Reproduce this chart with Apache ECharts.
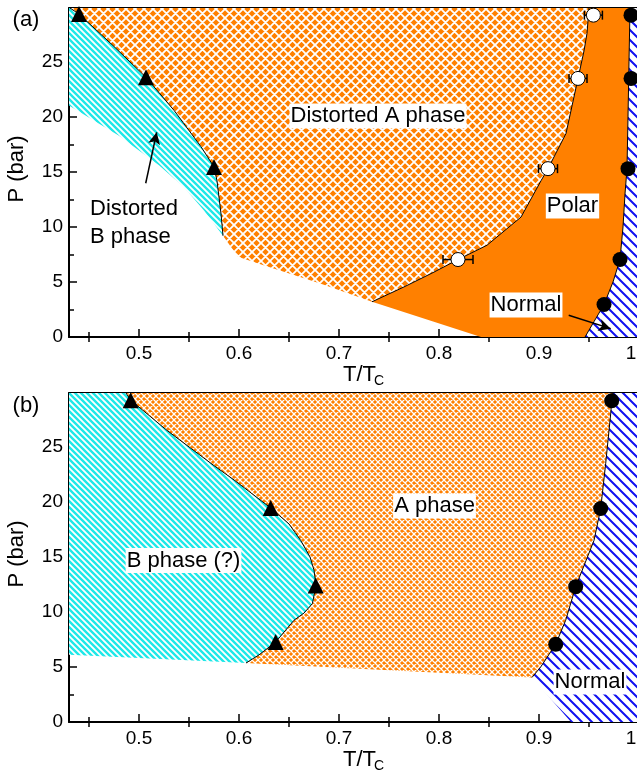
<!DOCTYPE html>
<html><head><meta charset="utf-8">
<script src="https://cdn.jsdelivr.net/npm/echarts@6/dist/echarts.min.js"></script>
<style>html,body{margin:0;padding:0;background:#fff}#c{width:637px;height:777px}</style>
</head><body><div id="c"></div>
<script>
// ---------------- data ----------------
const xMajorTicks = [0.5, 0.6, 0.7, 0.8, 0.9, 1.0];
const xTickLabels = ['0.5', '0.6', '0.7', '0.8', '0.9', '1.0'];
const xMinorTicks = [0.45, 0.55, 0.65, 0.75, 0.85, 0.95];
const yMajorTicks = [0, 5, 10, 15, 20, 25];
const yTickLabels = ['0', '5', '10', '15', '20', '25'];
const yMinorTicks = [2.5, 7.5, 12.5, 17.5, 22.5, 27.5];

// panel (a)
const aTriangles = [[0.44, 29.35], [0.507, 23.6], [0.575, 15.45]];
const aOpenCircles = [[0.9544, 29.25], [0.939, 23.5], [0.909, 15.3], [0.819, 7.04]];
const aOpenErr = [0.009, 0.009, 0.0095, 0.015];
const aFilledCircles = [[0.992, 29.25], [0.992, 23.5], [0.989, 15.3], [0.981, 7.04], [0.965, 2.95]];
const aCurveBA = [[0.431, 29.9], [0.44, 29.35], [0.475, 26.4], [0.507, 23.6], [0.535, 20.6], [0.562, 17.3], [0.575, 15.45], [0.578, 14.2], [0.582, 11.2], [0.584, 9.2]];
const aCyanLower = [[0.584, 9.2], [0.565, 11.5], [0.545, 13.6], [0.52, 15.6], [0.48, 18.3], [0.43, 21.05]];
const aOrderedLower = [[0.584, 9.2], [0.599, 7.3], [0.62, 6.65], [0.682, 4.85], [0.733, 3.2]];
const aCurveAP = [[0.733, 3.2], [0.765, 4.55], [0.795, 5.9], [0.819, 7.04], [0.848, 8.34], [0.882, 10.9], [0.902, 14.2], [0.909, 15.3], [0.927, 18.5], [0.939, 23.5], [0.945, 26.0], [0.948, 27.6], [0.95, 29.9]];
const aPolarLower = [[0.733, 3.2], [0.842, 0], [0.946, 0]];
const aCurveNormal = [[0.946, 0], [0.955, 1.4], [0.965, 2.95], [0.974, 5.0], [0.981, 7.04], [0.984, 10], [0.986, 13], [0.988, 15.3], [0.989, 20], [0.99, 25], [0.991, 29.9]];
const aArrowB = [[0.5067, 13.97], [0.5177, 18.6]];
const aArrowN = [[0.9297, 1.97], [0.9717, 0.76]];

// panel (b)
const bTriangles = [[0.4917, 29.25], [0.6317, 19.45], [0.6767, 12.4], [0.6367, 7.27]];
const bFilledCircles = [[0.9727, 29.2], [0.9617, 19.4], [0.9367, 12.3], [0.9167, 7.06]];
const bCurveBA = [[0.487, 29.9], [0.4917, 29.25], [0.528, 26.5], [0.55, 25.0], [0.575, 23.3], [0.595, 22.0], [0.6317, 19.45], [0.65, 18.0], [0.6617, 16.5], [0.671, 15.0], [0.675, 13.8], [0.677, 12.4], [0.6734, 10.76], [0.665, 9.9], [0.655, 9.25], [0.6367, 7.27], [0.62, 6.1], [0.607, 5.36]];
const bLowerLeft = [[0.607, 5.36], [0.43, 6.12]];
const bLowerRight = [[0.607, 5.36], [0.893, 4.05]];
const bCurveNormal = [[0.893, 4.05], [0.9017, 5.0], [0.9167, 7.06], [0.9267, 9.25], [0.9367, 12.3], [0.955, 16.5], [0.9617, 19.4], [0.9667, 23.5], [0.9717, 28.0], [0.9727, 29.2], [0.974, 29.9]];
const bNormalLower = [[0.932, 0], [0.893, 4.05]];

// ---------------- helpers ----------------
const FONT = "'Liberation Sans', Arial, Helvetica, sans-serif";
const XMIN = 0.43, XMAX = 1.0, YMIN = 0, YMAX = 29.9;
const ORANGE = '#ff8000', CYAN = '#1ee8e8', BLUE = '#1010f0';

function stripeTile(size, color, width) {
  const c = document.createElement('canvas'); c.width = size; c.height = size;
  const g = c.getContext('2d');
  g.fillStyle = '#fff'; g.fillRect(0, 0, size, size);
  g.strokeStyle = color; g.lineWidth = width; g.beginPath();
  for (let k = -1; k <= 1; k++) { g.moveTo(k * size - 1, -1); g.lineTo(k * size + size + 1, size + 1); }
  g.stroke();
  return { image: c, repeat: 'repeat' };
}
function crossTile(size, bg, fg, width) {
  const c = document.createElement('canvas'); c.width = size; c.height = size;
  const g = c.getContext('2d');
  g.fillStyle = bg; g.fillRect(0, 0, size, size);
  g.strokeStyle = fg; g.lineWidth = width; g.beginPath();
  for (let k = -1; k <= 1; k++) {
    g.moveTo(k * size - 1, -1); g.lineTo(k * size + size + 1, size + 1);
    g.moveTo(k * size - 1, size + 1); g.lineTo(k * size + size + 1, -1);
  }
  g.stroke();
  return { image: c, repeat: 'repeat' };
}
const fillCyan = stripeTile(6, CYAN, 2.4);
const fillBlue = stripeTile(10, BLUE, 2);
const fillCrossA = crossTile(9, ORANGE, '#fff', 1.8);
const fillCrossB = crossTile(6, ORANGE, '#fff', 1.3);

const rev = a => a.slice().reverse();

function poly(xi, yi, pts, fill, z) {
  return {
    type: 'custom', xAxisIndex: xi, yAxisIndex: yi, silent: true, z: z || 1, data: pts, clip: true,
    renderItem: (params, api) => params.dataIndex === 0 ? {
      type: 'polygon', shape: { points: pts.map(p => api.coord(p)) }, style: { fill: fill, stroke: null }
    } : null
  };
}
function curve(xi, yi, pts, extra) {
  return Object.assign({
    type: 'line', xAxisIndex: xi, yAxisIndex: yi, data: pts, symbol: 'none', silent: true, z: 3,
    lineStyle: { color: '#000', width: 1 }
  }, extra || {});
}
function marks(xi, yi, pts, symbol, size, color, border) {
  return {
    type: 'scatter', xAxisIndex: xi, yAxisIndex: yi, data: pts, symbol: symbol, symbolSize: size, z: 5, silent: true,
    itemStyle: { color: color, borderColor: '#000', borderWidth: border || 0, opacity: 1 }
  };
}
function lookup(vals, labels) {
  return v => { let best = 0; vals.forEach((t, i) => { if (Math.abs(t - v) < Math.abs(vals[best] - v)) best = i; }); return labels[best]; };
}
function axisSet(g, dim) {
  const isX = dim === 'x';
  const base = {
    gridIndex: g, type: 'value', min: isX ? XMIN : YMIN, max: isX ? XMAX : YMAX,
    splitLine: { show: false },
    axisLine: { show: true, onZero: false, lineStyle: { color: '#000', width: 2 } }
  };
  const major = isX ? xMajorTicks : yMajorTicks, minor = isX ? xMinorTicks : yMinorTicks;
  const p1 = isX ? 'bottom' : 'left', p2 = isX ? 'top' : 'right';
  const tick = (vals, len) => ({ show: true, inside: true, length: len, customValues: vals, lineStyle: { color: '#000', width: 1.5 } });
  return [
    Object.assign({}, base, { position: p1, axisTick: tick(major, 8),
      axisLabel: { show: true, customValues: major, formatter: isX ? lookup(xMajorTicks, xTickLabels) : lookup(yMajorTicks, yTickLabels),
        fontSize: 19, fontFamily: FONT, color: '#000', margin: isX ? 7 : 6 } }),
    Object.assign({}, base, { position: p1, axisLine: { show: false }, axisTick: tick(minor, 5), axisLabel: { show: false } }),
    Object.assign({}, base, { position: p2, axisTick: tick(major, 8), axisLabel: { show: false } }),
    Object.assign({}, base, { position: p2, axisLine: { show: false }, axisTick: tick(minor, 5), axisLabel: { show: false } })
  ];
}

// ---------------- regions ----------------
const aCyanPoly = [[XMIN, YMAX]].concat(aCurveBA, aCyanLower.slice(1));
const aCrossPoly = aCurveBA.concat(aOrderedLower.slice(1), aCurveAP.slice(1));
const aPolarPoly = aPolarLower.concat(aCurveNormal.slice(1), rev(aCurveAP));
const aNormalPoly = aCurveNormal.concat([[XMAX, YMAX], [XMAX, YMIN]]);

const bCyanPoly = [[XMIN, YMAX]].concat(bCurveBA, bLowerLeft.slice(1));
const bCrossPoly = bCurveBA.concat(bLowerRight.slice(1), bCurveNormal.slice(1));
const bNormalPoly = bCurveNormal.concat([[XMAX, YMAX], [XMAX, YMIN]], bNormalLower);

function errBars(xi, yi, pts, errs) {
  return {
    type: 'custom', xAxisIndex: xi, yAxisIndex: yi, z: 4, silent: true,
    data: pts.map((p, i) => [p[0], p[1], errs[i]]),
    renderItem: (params, api) => {
      const x = api.value(0), y = api.value(1), e = api.value(2);
      const a = api.coord([x - e, y]), b = api.coord([x + e, y]);
      const h = 4.5, st = { stroke: '#000', lineWidth: 1.5 };
      return { type: 'group', children: [
        { type: 'line', shape: { x1: a[0], y1: a[1], x2: b[0], y2: b[1] }, style: st },
        { type: 'line', shape: { x1: a[0], y1: a[1] - h, x2: a[0], y2: a[1] + h }, style: st },
        { type: 'line', shape: { x1: b[0], y1: b[1] - h, x2: b[0], y2: b[1] + h }, style: st }
      ] };
    }
  };
}

function label(text, x, y, opts) {
  return Object.assign({
    type: 'text', x: x, y: y, z: 100, silent: true,
    style: Object.assign({ text: text, fontSize: 22, fontFamily: FONT, fill: '#000', align: 'center', verticalAlign: 'middle',
      backgroundColor: '#fff', padding: [2, 1, 1, 1] }, (opts && opts.style) || {})
  }, opts && opts.el || {});
}

const chart = echarts.init(document.getElementById('c'), null, { renderer: 'canvas' });
const xAxes = axisSet(0, 'x').concat(axisSet(1, 'x'));
const yAxes = axisSet(0, 'y').concat(axisSet(1, 'y'));

chart.setOption({
  animation: false,
  backgroundColor: '#fff',
  grid: [
    { left: 69, top: 8, width: 570, height: 329, outerBoundsMode: 'none', containLabel: false },
    { left: 69, top: 393, width: 570, height: 329, outerBoundsMode: 'none', containLabel: false }
  ],
  xAxis: xAxes,
  yAxis: yAxes,
  series: [
    // panel (a)
    poly(0, 0, aCrossPoly, fillCrossA, 1),
    poly(0, 0, aPolarPoly, ORANGE, 1),
    poly(0, 0, aCyanPoly, fillCyan, 1),
    poly(0, 0, aNormalPoly, fillBlue, 1),
    curve(0, 0, aCurveBA, {
      markLine: {
        silent: true, animation: false, symbol: ['none', 'arrow'], symbolSize: [9, 12],
        lineStyle: { color: '#000', width: 1.5, type: 'solid' }, label: { show: false },
        data: [[{ coord: aArrowB[0] }, { coord: aArrowB[1] }], [{ coord: aArrowN[0] }, { coord: aArrowN[1] }]]
      }
    }),
    curve(0, 0, aCurveAP),
    curve(0, 0, aCurveNormal),
    errBars(0, 0, aOpenCircles, aOpenErr),
    marks(0, 0, aTriangles, 'triangle', 16, '#000'),
    marks(0, 0, aOpenCircles, 'circle', 14, '#fff', 1),
    marks(0, 0, aFilledCircles, 'circle', 15, '#000'),
    // panel (b)
    poly(4, 4, bCrossPoly, fillCrossB, 1),
    poly(4, 4, bCyanPoly, fillCyan, 1),
    poly(4, 4, bNormalPoly, fillBlue, 1),
    curve(4, 4, bCurveBA),
    curve(4, 4, bCurveNormal),
    marks(4, 4, bTriangles, 'triangle', 16, '#000'),
    marks(4, 4, bFilledCircles, 'circle', 15, '#000')
  ],
  graphic: [
    label('(a)', 26, 20, { style: { fontSize: 22, backgroundColor: null } }),
    label('(b)', 26, 406, { style: { fontSize: 22, backgroundColor: null } }),
    label('P (bar)', 17, 169, { style: { backgroundColor: null }, el: { rotation: Math.PI / 2 } }),
    label('P (bar)', 17, 554, { style: { backgroundColor: null }, el: { rotation: Math.PI / 2 } }),
    label('T/T', 342, 374.5, { style: { align: 'left', backgroundColor: null } }),
    label('C', 373, 381, { style: { align: 'left', fontSize: 14, backgroundColor: null } }),
    label('T/T', 342, 760, { style: { align: 'left', backgroundColor: null } }),
    label('C', 373, 766.5, { style: { align: 'left', fontSize: 14, backgroundColor: null } }),
    label('Distorted A phase', 378, 116),
    label('Polar', 572.5, 206),
    label('Normal', 526, 305),
    label('Distorted\nB phase', 89, 193, { style: { align: 'left', verticalAlign: 'top', lineHeight: 28, backgroundColor: null } }),
    label('A phase', 434.5, 506),
    label('B phase (?)', 183.5, 560.5),
    label('Normal', 590, 682)
  ]
});
</script></body></html>
